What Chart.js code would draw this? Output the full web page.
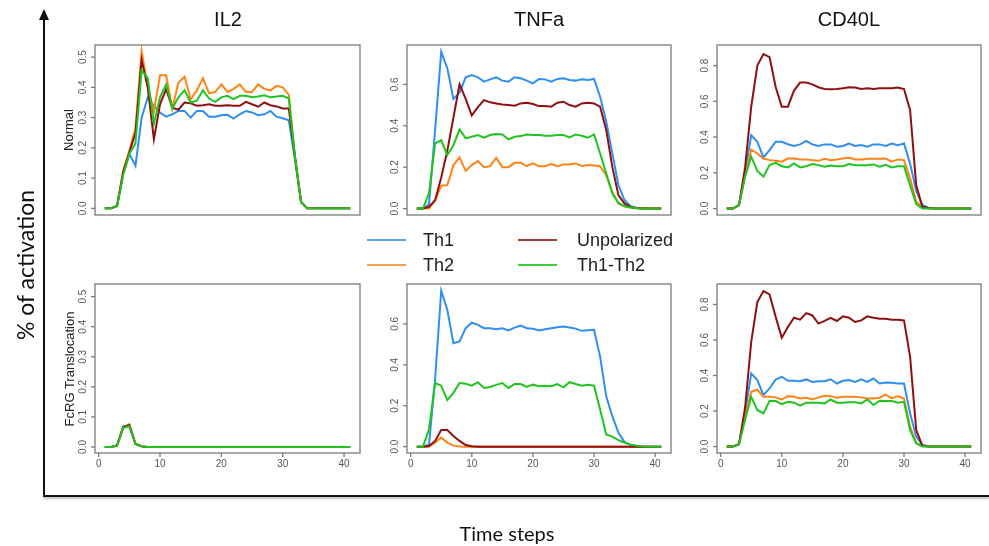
<!DOCTYPE html>
<html>
<head>
<meta charset="utf-8">
<script src="https://cdn.jsdelivr.net/npm/chart.js@4.4.1/dist/chart.umd.min.js"></script>
<style>
  body { margin: 0; background: #fff; }
  #page { position: relative; width: 989px; height: 546px; overflow: hidden; font-family: "Liberation Sans", Arial, sans-serif; }
  #page canvas { position: absolute; left: 0; top: 0; }
  .title { position: absolute; top: 8px; width: 200px; margin-left: -100px; text-align: center; font-size: 20px; color: #111; }
  .rowlab { position: absolute; font-size: 13px; color: #222; white-space: nowrap; transform: translate(-50%, -50%) rotate(-90deg); }
  .leg { position: absolute; font-size: 18px; color: #222; line-height: 20px; }
  .sw { position: absolute; height: 2px; width: 39px; }
  #ylab { position: absolute; left: 25px; top: 265px; transform: translate(-50%, -50%) rotate(-90deg); font-family: Lato, "Open Sans", sans-serif; font-size: 23px; color: #111; white-space: nowrap; }
  #xlab { position: absolute; left: 507px; top: 533px; transform: translate(-50%, -50%); font-family: Lato, "Open Sans", sans-serif; font-size: 20px; color: #111; white-space: nowrap; }
  #vline { position: absolute; left: 43px; top: 18px; width: 2px; height: 479px; background: #111; }
  #hline { position: absolute; left: 43px; top: 495px; width: 946px; height: 2px; background: #111; box-shadow: 0 2px 2px #bbb; }
  #arrow { position: absolute; left: 39px; top: 9px; width: 0; height: 0; border-left: 5px solid transparent; border-right: 5px solid transparent; border-bottom: 11px solid #111; }
</style>
</head>
<body>
<div id="page">
  <canvas id="c1" width="989" height="546"></canvas>
  <canvas id="c2" width="989" height="546"></canvas>
  <canvas id="c3" width="989" height="546"></canvas>
  <canvas id="c4" width="989" height="546"></canvas>
  <canvas id="c5" width="989" height="546"></canvas>
  <canvas id="c6" width="989" height="546"></canvas>

  <div class="title" style="left:228px">IL2</div>
  <div class="title" style="left:539px">TNFa</div>
  <div class="title" style="left:849px">CD40L</div>

  <div class="rowlab" style="left:68px; top:130px">Normal</div>
  <div class="rowlab" style="left:69px; top:369px">FcRG Translocation</div>

  <div class="sw" style="left:367px; top:239px; background:#5aa8f5"></div>
  <div class="leg" style="left:423px; top:230px">Th1</div>
  <div class="sw" style="left:367px; top:264px; background:#f7a24a"></div>
  <div class="leg" style="left:423px; top:255px">Th2</div>
  <div class="sw" style="left:518px; top:239px; background:#a33a3a"></div>
  <div class="leg" style="left:577px; top:230px">Unpolarized</div>
  <div class="sw" style="left:518px; top:264px; background:#3ccf3c"></div>
  <div class="leg" style="left:577px; top:255px">Th1-Th2</div>

  <div id="vline"></div>
  <div id="arrow"></div>
  <div id="hline"></div>
  <div id="ylab">% of activation</div>
  <div id="xlab">Time steps</div>
</div>

<script>
// time steps (x)
var steps = [1,2,3,4,5,6,7,8,9,10,11,12,13,14,15,16,17,18,19,20,21,22,23,24,25,26,27,28,29,30,31,32,33,34,35,36,37,38,39,40,41];
var seriesNames = ["Th1", "Th2", "Unpolarized", "Th1-Th2"];

// IL2 - Normal
var il2NormTh1 = [0,0,0.008,0.115,0.18,0.14,0.30,0.367,0.34,0.317, 0.303,0.311,0.322,0.322,0.30,0.322,0.322,0.303,0.303,0.308, 0.309,0.297,0.311,0.322,0.317,0.308,0.311,0.322,0.303,0.298, 0.291,0.16,0.022,0,0,0,0,0,0,0, 0];
var il2NormTh2 = [0,0,0.008,0.125,0.19,0.265,0.52,0.40,0.32,0.44, 0.44,0.33,0.415,0.435,0.36,0.39,0.43,0.38,0.385,0.41, 0.385,0.395,0.41,0.385,0.385,0.41,0.395,0.39,0.405,0.40, 0.375,0.17,0.02,0,0,0,0,0,0,0, 0];
var il2NormUnp = [0,0,0.008,0.12,0.185,0.25,0.49,0.40,0.228,0.344, 0.394,0.333,0.326,0.35,0.347,0.339,0.341,0.344,0.339,0.339, 0.341,0.339,0.339,0.352,0.344,0.336,0.35,0.341,0.337,0.33, 0.33,0.17,0.02,0,0,0,0,0,0,0, 0];
var il2NormMix = [0,0,0.008,0.11,0.18,0.215,0.456,0.43,0.28,0.367, 0.41,0.33,0.367,0.39,0.35,0.356,0.39,0.363,0.352,0.367, 0.372,0.361,0.372,0.372,0.367,0.37,0.374,0.367,0.37,0.372, 0.363,0.17,0.02,0,0,0,0,0,0,0, 0];

// TNFa - Normal
var tnfNormTh1 = [0,0,0.02,0.38,0.758,0.677,0.53,0.56,0.634,0.645, 0.634,0.613,0.624,0.634,0.618,0.613,0.634,0.629,0.618,0.605, 0.626,0.624,0.613,0.626,0.629,0.621,0.618,0.624,0.621,0.626, 0.54,0.42,0.266,0.113,0.04,0.011,0.003,0,0,0, 0];
var tnfNormTh2 = [0,0,0,0.04,0.11,0.113,0.21,0.247,0.182,0.21, 0.23,0.2,0.205,0.245,0.2,0.2,0.221,0.221,0.205,0.218, 0.205,0.205,0.215,0.205,0.213,0.213,0.218,0.206,0.21,0.208, 0.205,0.16,0.08,0.024,0.011,0.005,0.002,0,0,0, 0];
var tnfNormUnp = [0,0,0.008,0.04,0.15,0.28,0.44,0.6,0.53,0.45, 0.49,0.524,0.513,0.508,0.503,0.5,0.497,0.508,0.511,0.505, 0.495,0.495,0.492,0.511,0.516,0.5,0.492,0.508,0.511,0.508, 0.492,0.38,0.2,0.065,0.024,0.008,0.003,0,0,0, 0];
var tnfNormMix = [0,0,0.073,0.315,0.33,0.258,0.306,0.382,0.339,0.347, 0.355,0.342,0.355,0.36,0.358,0.334,0.347,0.35,0.358,0.355, 0.355,0.352,0.352,0.355,0.355,0.344,0.358,0.352,0.342,0.358, 0.266,0.17,0.073,0.027,0.011,0.005,0.002,0,0,0, 0];

// CD40L - Normal
var cdNormTh1 = [0,0,0.019,0.2,0.41,0.374,0.286,0.327,0.374,0.374, 0.36,0.35,0.359,0.379,0.359,0.35,0.359,0.359,0.346,0.35, 0.364,0.35,0.355,0.346,0.359,0.359,0.35,0.364,0.355,0.364, 0.25,0.1,0.02,0.005,0,0,0,0,0,0, 0];
var cdNormTh2 = [0,0,0.019,0.18,0.33,0.308,0.28,0.271,0.267,0.262, 0.28,0.28,0.275,0.275,0.271,0.267,0.278,0.271,0.275,0.28, 0.284,0.275,0.275,0.278,0.278,0.278,0.28,0.262,0.275,0.271, 0.17,0.04,0.005,0,0,0,0,0,0,0, 0];
var cdNormUnp = [0,0,0.019,0.23,0.57,0.80,0.864,0.847,0.68,0.57, 0.57,0.66,0.705,0.705,0.695,0.679,0.669,0.667,0.669,0.673, 0.679,0.677,0.669,0.673,0.669,0.673,0.673,0.673,0.677,0.669, 0.55,0.13,0.01,0.003,0,0,0,0,0,0, 0];
var cdNormMix = [0,0,0.019,0.18,0.29,0.21,0.178,0.243,0.256,0.237, 0.23,0.252,0.23,0.237,0.249,0.243,0.234,0.241,0.237,0.237, 0.249,0.243,0.243,0.243,0.247,0.234,0.245,0.23,0.237,0.237, 0.13,0.025,0,0,0,0,0,0,0,0, 0];

// IL2 - FcRG Translocation
var il2FcTh1 = [0,0,0.005,0.068,0.07,0.01,0.002,0,0,0, 0,0,0,0,0,0,0,0,0,0, 0,0,0,0,0,0,0,0,0,0, 0,0,0,0,0,0,0,0,0,0, 0];
var il2FcTh2 = [0,0,0.005,0.064,0.076,0.011,0.002,0,0,0, 0,0,0,0,0,0,0,0,0,0, 0,0,0,0,0,0,0,0,0,0, 0,0,0,0,0,0,0,0,0,0, 0];
var il2FcUnp = [0,0,0.005,0.066,0.073,0.01,0.002,0,0,0, 0,0,0,0,0,0,0,0,0,0, 0,0,0,0,0,0,0,0,0,0, 0,0,0,0,0,0,0,0,0,0, 0];
var il2FcMix = [0,0,0.005,0.064,0.069,0.01,0.002,0,0,0, 0,0,0,0,0,0,0,0,0,0, 0,0,0,0,0,0,0,0,0,0, 0,0,0,0,0,0,0,0,0,0, 0];

// TNFa - FcRG Translocation
var tnfFcTh1 = [0,0,0.011,0.33,0.762,0.668,0.506,0.514,0.579,0.606, 0.595,0.579,0.579,0.574,0.579,0.568,0.582,0.592,0.579,0.576, 0.568,0.574,0.579,0.584,0.587,0.582,0.577,0.566,0.569,0.571, 0.44,0.246,0.149,0.068,0.023,0.008,0.003,0,0,0, 0];
var tnfFcTh2 = [0,0,0,0.02,0.044,0.02,0.005,0.001,0,0, 0,0,0,0,0,0,0,0,0,0, 0,0,0,0,0,0,0,0,0,0, 0,0,0,0,0,0,0,0,0,0, 0];
var tnfFcUnp = [0,0,0.003,0.028,0.081,0.081,0.052,0.028,0.008,0.002, 0,0,0,0,0,0,0,0,0,0, 0,0,0,0,0,0,0,0,0,0, 0,0,0,0,0,0,0,0,0,0, 0];
var tnfFcMix = [0,0,0.084,0.311,0.298,0.227,0.263,0.311,0.308,0.298, 0.315,0.287,0.292,0.302,0.311,0.287,0.306,0.306,0.292,0.303, 0.295,0.298,0.295,0.306,0.29,0.315,0.306,0.298,0.303,0.298, 0.182,0.06,0.049,0.032,0.019,0.01,0.004,0.001,0,0, 0];

// CD40L - FcRG Translocation
var cdFcTh1 = [0,0,0.013,0.187,0.411,0.374,0.29,0.327,0.378,0.393, 0.37,0.37,0.368,0.378,0.364,0.368,0.368,0.379,0.355,0.37, 0.374,0.364,0.378,0.364,0.383,0.355,0.361,0.359,0.355,0.355, 0.187,0.056,0.009,0.002,0,0,0,0,0,0, 0];
var cdFcTh2 = [0,0,0.013,0.168,0.308,0.321,0.28,0.28,0.277,0.265, 0.284,0.28,0.271,0.275,0.265,0.277,0.286,0.284,0.275,0.28, 0.28,0.28,0.277,0.271,0.271,0.275,0.293,0.271,0.284,0.271, 0.112,0.019,0.003,0,0,0,0,0,0,0, 0];
var cdFcUnp = [0,0,0.013,0.22,0.59,0.813,0.875,0.856,0.73,0.613, 0.673,0.725,0.714,0.751,0.738,0.692,0.707,0.725,0.707,0.733, 0.725,0.701,0.71,0.733,0.725,0.72,0.72,0.714,0.714,0.71, 0.505,0.093,0.006,0,0,0,0,0,0,0, 0];
var cdFcMix = [0,0,0.013,0.15,0.28,0.206,0.187,0.258,0.256,0.239, 0.252,0.247,0.23,0.247,0.247,0.247,0.243,0.265,0.247,0.247, 0.249,0.249,0.243,0.265,0.234,0.258,0.256,0.256,0.247,0.252, 0.093,0.019,0,0,0,0,0,0,0,0, 0];

// tick labels
var il2Ticks = [0, 0.1, 0.2, 0.3, 0.4, 0.5];
var tnfTicks = [0, 0.2, 0.4, 0.6];
var cdTicks = [0, 0.2, 0.4, 0.6, 0.8];
var xTicks = [0, 10, 20, 30, 40];

var colors = ["#2f8ff0", "#ff8418", "#8e1010", "#1fc41f"];

// draws the R style box, ticks and labels
var rFrame = {
  id: "rFrame",
  afterDraw: function(chart, args, opts) {
    var ctx = chart.ctx, a = chart.chartArea;
    var x = chart.scales.x, y = chart.scales.y;
    ctx.save();
    ctx.strokeStyle = "#7a7a7a";
    ctx.lineWidth = 1.3;
    ctx.strokeRect(a.left, a.top, a.right - a.left, a.bottom - a.top);
    ctx.fillStyle = "#555";
    ctx.font = '10px "Liberation Sans", Arial, sans-serif';
    ctx.textAlign = "center";
    ctx.textBaseline = "middle";
    opts.yTicks.forEach(function(v) {
      var py = y.getPixelForValue(v);
      ctx.beginPath();
      ctx.moveTo(a.left, py);
      ctx.lineTo(a.left - 4, py);
      ctx.stroke();
      ctx.save();
      ctx.translate(a.left - 12, py);
      ctx.rotate(-Math.PI / 2);
      ctx.fillText(v.toFixed(1), 0, 0);
      ctx.restore();
    });
    if (opts.showX) {
      xTicks.forEach(function(v) {
        var px = x.getPixelForValue(v);
        ctx.beginPath();
        ctx.moveTo(px, a.bottom);
        ctx.lineTo(px, a.bottom + 4);
        ctx.stroke();
        ctx.fillText(String(v), px, a.bottom + 11);
      });
    }
    ctx.restore();
  }
};

function makePanel(id, box, yMin, yMax, yTicks, showX, data) {
  var datasets = data.map(function(vals, i) {
    return {
      label: seriesNames[i],
      data: vals,
      borderColor: colors[i],
      borderWidth: 2,
      pointRadius: 0,
      tension: 0,
      fill: false,
      order: 3 - i
    };
  });
  new Chart(document.getElementById(id), {
    type: "line",
    data: { labels: steps, datasets: datasets },
    options: {
      responsive: false,
      animation: false,
      devicePixelRatio: 1,
      layout: { padding: { left: box[0], top: box[2], right: 989 - box[1], bottom: 546 - box[3] } },
      plugins: {
        legend: { display: false },
        tooltip: { enabled: false },
        rFrame: { yTicks: yTicks, showX: showX }
      },
      scales: {
        x: { type: "linear", min: -0.6, max: 42.6, display: false },
        y: { min: yMin, max: yMax, display: false }
      }
    },
    plugins: [rFrame]
  });
}

// [left, right, top, bottom] of each plot box
var col1 = [95, 360], col2 = [407, 671], col3 = [717, 981];
var row1 = [45, 215], row2 = [284, 453];

makePanel("c1", col1.concat(row1), -0.022, 0.54, il2Ticks, false, [il2NormTh1, il2NormTh2, il2NormUnp, il2NormMix]);
makePanel("c2", col2.concat(row1), -0.031, 0.79, tnfTicks, false, [tnfNormTh1, tnfNormTh2, tnfNormUnp, tnfNormMix]);
makePanel("c3", col3.concat(row1), -0.036, 0.915, cdTicks, false, [cdNormTh1, cdNormTh2, cdNormUnp, cdNormMix]);
makePanel("c4", col1.concat(row2), -0.02, 0.542, il2Ticks, true, [il2FcTh1, il2FcTh2, il2FcUnp, il2FcMix]);
makePanel("c5", col2.concat(row2), -0.031, 0.795, tnfTicks, true, [tnfFcTh1, tnfFcTh2, tnfFcUnp, tnfFcMix]);
makePanel("c6", col3.concat(row2), -0.036, 0.915, cdTicks, true, [cdFcTh1, cdFcTh2, cdFcUnp, cdFcMix]);
</script>
</body>
</html>
